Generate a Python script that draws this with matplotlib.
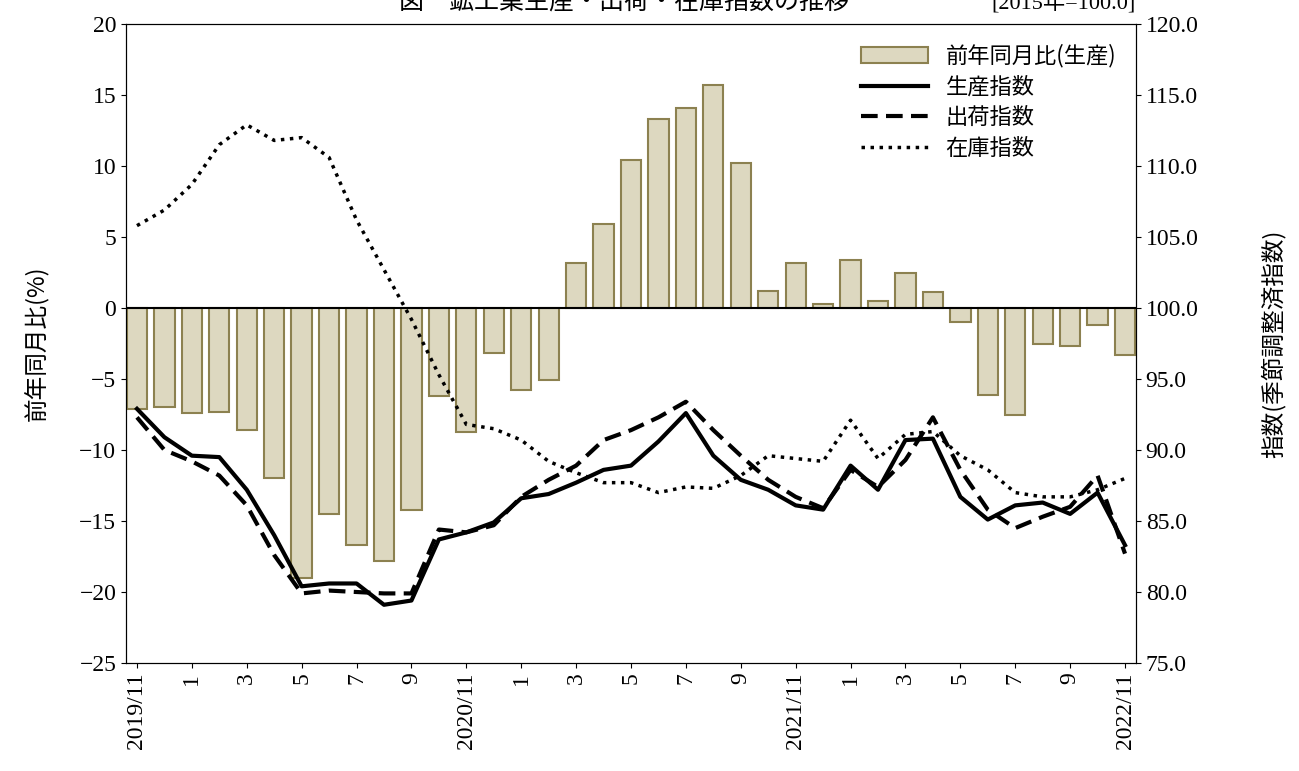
import matplotlib
matplotlib.use("Agg")
import matplotlib.pyplot as plt
import numpy as np

plt.rcParams['font.family'] = ['Liberation Serif', 'Noto Sans CJK JP']

months = ["2019/11","12","1","2","3","4","5","6","7","8","9","10",
          "2020/11","12","1","2","3","4","5","6","7","8","9","10",
          "2021/11","12","1","2","3","4","5","6","7","8","9","10","2022/11"]
yoy = [-7.1,-7.0,-7.4,-7.3,-8.6,-12.0,-19.0,-14.5,-16.7,-17.8,-14.2,-6.2,
       -8.7,-3.2,-5.8,-5.1,3.2,5.9,10.4,13.3,14.1,15.7,10.2,1.2,
       3.2,0.3,3.4,0.5,2.5,1.1,-1.0,-6.1,-7.5,-2.5,-2.7,-1.2,-3.3]
production = [92.9,90.9,89.6,89.5,87.2,84.0,80.4,80.6,80.6,79.1,79.4,83.7,
              84.2,84.9,86.6,86.9,87.7,88.6,88.9,90.6,92.6,89.6,87.9,87.2,
              86.1,85.8,88.9,87.2,90.7,90.8,86.7,85.1,86.1,86.3,85.5,87.0,83.3]
shipment = [92.3,90.0,89.2,88.2,86.1,82.6,79.9,80.1,80.0,79.9,79.9,84.4,
            84.2,84.7,86.7,87.9,88.9,90.7,91.4,92.3,93.4,91.4,89.6,87.9,
            86.7,85.9,88.6,87.4,89.3,92.3,88.6,85.8,84.5,85.3,86.0,88.2,82.7]
inventory = [105.8,106.9,108.7,111.5,112.9,111.8,112.0,110.6,106.2,102.7,99.2,95.3,
             91.8,91.5,90.7,89.2,88.4,87.7,87.7,87.0,87.4,87.3,88.2,89.6,
             89.4,89.2,92.1,89.4,91.1,91.3,89.6,88.6,87.0,86.7,86.7,87.2,88.0]

fig = plt.figure(figsize=(12.99, 7.71), dpi=100)
ax = fig.add_axes([126/1299, 1-663/771, 1010/1299, 639/771])
x = np.arange(len(months))
ax.bar(x, yoy, width=0.74, color='#ddd8c0', edgecolor='#8c8150', linewidth=1.5, label='前年同月比(生産)', zorder=2)
ax.axhline(0, color='black', lw=1.5, zorder=3)
ax.set_ylim(-25, 20)
ax.set_yticks(range(-25, 21, 5))
ax.set_yticklabels([str(v).replace('-', '−') for v in range(-25, 21, 5)])
ax.set_xlim(-0.4, len(months)-0.6)
ax.set_xticks(x[::2])
ax.set_xticklabels(months[::2], rotation=90)
ax.set_ylabel('前年同月比(%)', fontsize=17, family=['Noto Sans CJK JP'], labelpad=22)
ax.tick_params(labelsize=17, direction='out')

ax2 = ax.twinx()
ax2.plot(x, production, color='black', lw=3, label='生産指数')
ax2.plot(x, shipment, color='black', lw=3, ls=(0, (4, 2)), label='出荷指数')
ax2.plot(x, inventory, color='black', lw=2.5, ls=(0, (1, 1.6)), label='在庫指数')
ax2.set_ylim(75, 120)
ax2.set_yticks(np.arange(75, 121, 5))
ax2.set_yticklabels([f"{v:.1f}" for v in np.arange(75, 121, 5)])
ax2.set_ylabel('指数(季節調整済指数)', fontsize=17, family=['Noto Sans CJK JP'], labelpad=45)
ax2.tick_params(labelsize=17, direction='out')

h1, l1 = ax.get_legend_handles_labels()
h2, l2 = ax2.get_legend_handles_labels()
ax2.legend(h1+h2, l1+l2, loc='upper right', frameon=False,
           prop={'family': 'Noto Sans CJK JP', 'size': 16}, handlelength=3.0,
           bbox_to_anchor=(1.0, 1.0), labelspacing=0.35)

fig.text(0.48, 0.998, '図　鉱工業生産・出荷・在庫指数の推移', ha='center', va='center',
         fontsize=18, family=['Noto Sans CJK JP'])
fig.text(1136/1299, 0.996, '[2015年=100.0]', ha='right', va='center', fontsize=16,
         family=['Liberation Serif', 'Noto Sans CJK JP'])
fig.savefig('out.png', dpi=100)
